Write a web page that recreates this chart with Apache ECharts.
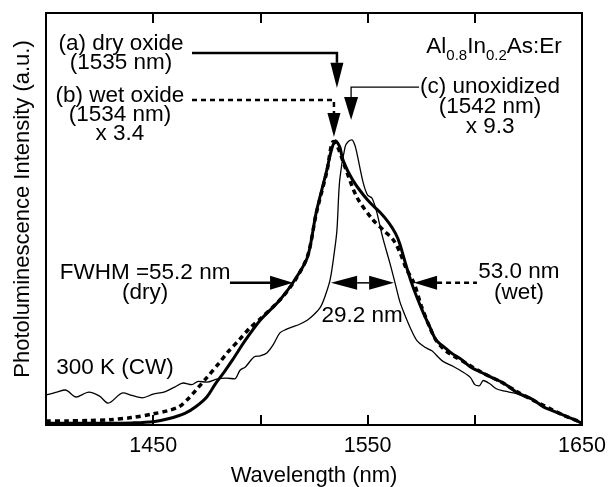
<!DOCTYPE html>
<html><head><meta charset="utf-8">
<script src="https://cdn.jsdelivr.net/npm/echarts@6/dist/echarts.min.js"></script>
<style>html,body{margin:0;padding:0;background:#fff}#c{width:608px;height:487px}</style>
</head><body><div id="c"></div>
<script>
// ---- data (wavelength in nm, normalized PL intensity) ----
const dryWavelength = [1400,1410,1420,1430,1440,1450,1457,1465,1470,1475,1479,1483,1487,1493,1500,1509,1516,1522,1526,1531,1533,1535,1537,1538.5,1543,1550,1556,1560,1563,1565,1567.5,1570.5,1573,1576,1579,1582,1586,1589,1594,1598,1603,1608,1613,1620,1627,1632,1640,1645,1650];
const dryIntensity  = [0.004,0.004,0.004,0.004,0.005,0.008,0.015,0.029,0.045,0.068,0.10,0.128,0.158,0.206,0.255,0.303,0.352,0.408,0.515,0.619,0.665,0.690,0.675,0.643,0.595,0.546,0.515,0.490,0.465,0.44,0.395,0.345,0.31,0.272,0.238,0.206,0.188,0.175,0.158,0.141,0.128,0.115,0.103,0.078,0.062,0.044,0.027,0.016,0.004];

const wetWavelength = [1400,1410,1420,1430,1440,1450,1457,1462,1466,1470,1475,1480.7,1485,1490,1495,1500,1509,1516,1522,1526,1531,1534,1536,1539,1545,1552.5,1558,1562,1565,1568,1571.6,1575,1579,1582,1586,1590,1596,1603,1612,1620,1628,1635,1642,1650];
const wetIntensity  = [0.010,0.010,0.011,0.013,0.018,0.027,0.035,0.044,0.062,0.085,0.115,0.150,0.178,0.206,0.235,0.258,0.303,0.350,0.410,0.512,0.615,0.688,0.675,0.633,0.553,0.498,0.47,0.449,0.42,0.38,0.345,0.29,0.237,0.205,0.182,0.168,0.150,0.128,0.105,0.080,0.058,0.040,0.022,0.006];

const unoxWavelength = [1400,1405,1409,1414,1420,1425,1429,1436,1440,1445,1450,1455,1460,1464,1468,1471,1475,1480,1484,1488,1490.5,1493,1497,1500,1503,1506,1509,1512,1515,1518,1522,1525,1528,1530,1532.5,1534.5,1535.7,1537,1539.5,1541,1542.7,1544,1545,1548,1550,1552,1554,1557,1560.4,1562.8,1565,1567,1570,1573,1577,1580,1585,1590,1594,1598,1600,1602,1604,1607,1610,1614,1618,1622,1627,1632,1640,1645,1650];
const unoxIntensity  = [0.073,0.080,0.085,0.068,0.080,0.070,0.053,0.078,0.072,0.066,0.075,0.080,0.092,0.102,0.098,0.106,0.104,0.112,0.114,0.112,0.133,0.141,0.165,0.168,0.175,0.195,0.223,0.232,0.238,0.244,0.255,0.268,0.286,0.31,0.352,0.42,0.473,0.595,0.675,0.688,0.692,0.68,0.660,0.587,0.558,0.551,0.522,0.456,0.393,0.345,0.30,0.272,0.235,0.205,0.188,0.180,0.155,0.142,0.130,0.115,0.098,0.095,0.108,0.100,0.088,0.082,0.078,0.072,0.060,0.044,0.027,0.016,0.004];

const xTickLabels = ['1450','1550','1650'];

const pairs = (xs, ys) => xs.map((x, i) => [x, ys[i]]);
const FONT = 'Liberation Sans, Arial, Helvetica, sans-serif';
const FS = 22.5;      // annotation text
const FS_TICK = 21.5; // tick labels
const FS_NAME = 22;   // axis names

const chart = echarts.init(document.getElementById('c'), null, {renderer: 'canvas'});

const xCommon = {
  type: 'value', min: 1400, max: 1650, interval: 50,
  axisLine: {show: true, lineStyle: {color: '#000', width: 2}},
  axisTick: {show: true, inside: true, length: 10, lineStyle: {color: '#000', width: 2}},
  splitLine: {show: false}
};

chart.setOption({
  animation: false,
  backgroundColor: '#fff',
  grid: {left: 46, right: 26, top: 13, bottom: 62, show: true, borderColor: '#000', borderWidth: 2,
         backgroundColor: 'transparent', containLabel: false, outerBoundsMode: 'none'},
  xAxis: [
    Object.assign({}, xCommon, {
      position: 'bottom',
      name: 'Wavelength (nm)', nameLocation: 'middle', nameGap: 40,
      nameTextStyle: {fontFamily: FONT, fontSize: FS_NAME, color: '#000'},
      axisLabel: {show: true, margin: 10, fontFamily: FONT, fontSize: FS_TICK, color: '#000',
        formatter: v => xTickLabels.includes(String(v)) ? String(v) : ''}
    }),
    Object.assign({}, xCommon, {position: 'top', axisLabel: {show: false}})
  ],
  yAxis: [{
    type: 'value', min: 0, max: 1,
    axisLine: {show: true, lineStyle: {color: '#000', width: 2}},
    axisTick: {show: false}, axisLabel: {show: false}, splitLine: {show: false},
    name: 'Photoluminescence Intensity (a.u.)', nameLocation: 'middle', nameRotate: 90, nameGap: 12,
    nameTextStyle: {fontFamily: FONT, fontSize: FS_NAME, color: '#000', padding: [0, 0, 0, 20]}
  }],
  series: [
    {name: '(c) unoxidized', type: 'line', data: pairs(unoxWavelength, unoxIntensity), showSymbol: false, smooth: 0.3,
     lineStyle: {color: '#000', width: 1.3}, z: 2},
    {name: '(a) dry oxide', type: 'line', data: pairs(dryWavelength, dryIntensity), showSymbol: false, smooth: 0.3,
     lineStyle: {color: '#000', width: 3}, z: 3},
    {name: '(b) wet oxide', type: 'line', data: pairs(wetWavelength, wetIntensity), showSymbol: false, smooth: 0.3,
     lineStyle: {color: '#000', width: 3.5, type: [5, 4]}, z: 4}
  ]
});

// ---- annotations, positioned in data coordinates ----
const P = (x, y) => chart.convertToPixel({xAxisIndex: 0, yAxisIndex: 0}, [x, y]);
const black = '#000';
const g = [];
function poly(pts, w, dash) {
  g.push({type: 'polyline', shape: {points: pts}, style: {stroke: black, lineWidth: w, lineDash: dash || null, fill: null}, z: 10});
}
function headDown(x, yBase, yTip, hw) {
  const b = P(x, yBase), t = P(x, yTip);
  g.push({type: 'polygon', shape: {points: [[b[0]-hw, b[1]], [b[0]+hw, b[1]], [t[0], t[1]]]}, style: {fill: black}, z: 10});
}
function headH(xBase, xTip, y, hh) {
  const b = P(xBase, y), t = P(xTip, y);
  g.push({type: 'polygon', shape: {points: [[b[0], b[1]-hh], [b[0], b[1]+hh], [t[0], t[1]]]}, style: {fill: black}, z: 10});
}
function text(str, x, y, lh) {
  const p = P(x, y);
  g.push({type: 'text', x: p[0], y: p[1], z: 11,
    style: {text: str, fontFamily: FONT, fontSize: FS, fill: black, align: 'center', verticalAlign: 'middle', lineHeight: lh || 20}});
}

// (a) dry oxide arrow
poly([P(1468.1, 0.903), P(1535.7, 0.903), P(1535.7, 0.879)], 2.5);
headDown(1535.7, 0.879, 0.818, 6.5);
// (b) wet oxide arrow (dashed)
poly([P(1468.1, 0.789), P(1534.3, 0.789), P(1534.3, 0.757)], 2.5, [5, 4]);
headDown(1534.3, 0.757, 0.699, 6.5);
// (c) unoxidized arrow (thin)
poly([P(1574, 0.820), P(1542.3, 0.820), P(1542.3, 0.796)], 1.3);
headDown(1542.3, 0.796, 0.740, 7);

// FWHM dry arrow
poly([P(1485.8, 0.345), P(1504.5, 0.345)], 2.5);
headH(1504.5, 1515.2, 0.345, 7);
// FWHM unoxidized double arrow
poly([P(1545.1, 0.345), P(1550.7, 0.345)], 1.5);
headH(1545.1, 1532.9, 0.345, 7);
headH(1550.7, 1562.3, 0.345, 7);
// FWHM wet arrow
headH(1582.4, 1571.6, 0.345, 7);
poly([P(1582.4, 0.345), P(1601, 0.345)], 2.5, [5, 4]);

text('(a) dry oxide\n(1535 nm)', 1435, 0.902, 19);
text('(b) wet oxide\n(1534 nm)\nx 3.4', 1434.5, 0.754, 19);
text('(c) unoxidized\n(1542 nm)\nx 9.3', 1607.1, 0.772, 20);
text('FWHM =55.2 nm\n(dry)', 1446.2, 0.345, 20);
text('29.2 nm', 1547.4, 0.265);
text('53.0 nm\n(wet)', 1620.6, 0.346, 21);
text('300 K (CW)', 1432.2, 0.138);

// composition label with subscripts
(function () {
  const p = P(1609, 0.912);
  g.push({type: 'text', x: p[0], y: p[1], z: 11,
    style: {text: '{n|Al}{s|0.8}{n|In}{s|0.2}{n|As:Er}', align: 'center', verticalAlign: 'middle', fill: black,
      rich: {
        n: {fontFamily: FONT, fontSize: FS, fill: black, verticalAlign: 'top', lineHeight: 28},
        s: {fontFamily: FONT, fontSize: 15, fill: black, verticalAlign: 'bottom', lineHeight: 28}
      }}});
})();

chart.setOption({graphic: g});
</script>
</body></html>
